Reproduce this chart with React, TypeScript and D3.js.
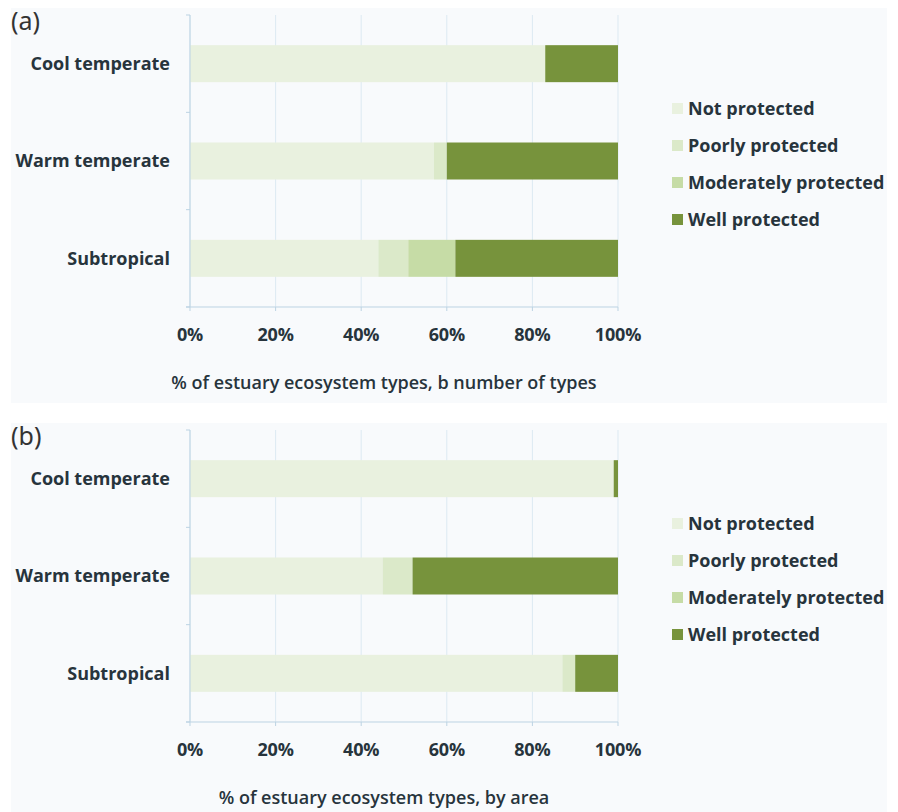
import React from "react";
import * as d3 from "d3";

const CATEGORIES = ["Cool temperate", "Warm temperate", "Subtropical"];
const SERIES = ["Not protected", "Poorly protected", "Moderately protected", "Well protected"];
const COLORS = ["#e9f1df", "#dbe9c9", "#c6dca6", "#77933c"];
const TICKS = [0, 20, 40, 60, 80, 100];

// panel (a): by number of types
const A_NOT = [83, 57, 44];
const A_POOR = [0, 3, 7];
const A_MOD = [0, 0, 11];
const A_WELL = [17, 40, 38];

// panel (b): by area
const B_NOT = [99, 45, 87];
const B_POOR = [0, 7, 3];
const B_MOD = [0, 0, 0];
const B_WELL = [1, 48, 10];

const FONT = "'Open Sans', Lato, sans-serif";
const TEXT = "#27343c";
const AXIS = "#bcd3e3";

type PanelProps = {
    y0: number;
    label: string;
    title: string;
    values: number[][];
};

const Panel = ({ y0, label, title, values }: PanelProps) => {
    const left = 190;
    const right = 618;
    const top = y0 + 7;
    const bottom = y0 + 299;

    const x = d3.scaleLinear().domain([0, 100]).range([left, right]);
    const y = d3.scaleBand().domain(CATEGORIES).range([top, bottom]).paddingInner(0.62).paddingOuter(0.31);

    const rows = CATEGORIES.map((c, i) => {
        const row: any = { cat: c };
        SERIES.forEach((s, j) => (row[s] = values[j][i]));
        return row;
    });
    const stack = d3.stack<any>().keys(SERIES)(rows);

    const band = (bottom - top) / CATEGORIES.length;

    return (
        <g>
            <rect x={11} y={y0} width={876} height={395} fill="#f8fafc" />
            <text x={11} y={y0 + 22} fontSize={25} fontFamily="'Noto Sans', sans-serif" fill="#333">{label}</text>
            {TICKS.map((t) => (
                <line key={t} x1={x(t)} x2={x(t)} y1={top} y2={bottom} stroke="#dce9f2" strokeWidth={1} />
            ))}
            {stack.map((layer, j) => layer.map((d, i) => (
                <rect
                    key={`${j}-${i}`}
                    x={x(d[0])}
                    y={y(CATEGORIES[i]) ?? 0}
                    width={x(d[1]) - x(d[0])}
                    height={y.bandwidth()}
                    fill={COLORS[j]}
                />
            )))}
            <line x1={left} x2={left} y1={top} y2={bottom} stroke={AXIS} />
            <line x1={left - 4} x2={right} y1={bottom} y2={bottom} stroke={AXIS} />
            {d3.range(CATEGORIES.length + 1).map((k) => (
                <line key={k} x1={left - 4} x2={left} y1={top + k * band} y2={top + k * band} stroke={AXIS} />
            ))}
            {TICKS.map((t) => (
                <line key={"tk" + t} x1={x(t)} x2={x(t)} y1={bottom} y2={bottom + 4} stroke={AXIS} />
            ))}
            {CATEGORIES.map((c) => (
                <text key={c} x={170} y={(y(c) ?? 0) + y.bandwidth() / 2} dy="0.35em" textAnchor="end"
                    fontSize={18} fontWeight={700} fontFamily={FONT} fill={TEXT}>{c}</text>
            ))}
            {TICKS.map((t) => (
                <text key={"l" + t} x={x(t)} y={bottom + 28} dy="0.35em" textAnchor="middle"
                    fontSize={18} fontWeight={700} fontFamily={FONT} fill={TEXT} letterSpacing={-0.2}>{t}%</text>
            ))}
            <text x={384} y={bottom + 76} dy="0.35em" textAnchor="middle"
                fontSize={18} fontFamily={FONT} fontWeight={600} fill={TEXT}>{title}</text>
            {SERIES.map((s, j) => (
                <g key={s} transform={`translate(672, ${y0 + 101 + j * 37})`}>
                    <rect x={0} y={-6} width={11} height={11} fill={COLORS[j]} />
                    <text x={16} y={0} dy="0.35em" fontSize={18} fontWeight={700} fontFamily={FONT} fill={TEXT}>{s}</text>
                </g>
            ))}
        </g>
    );
};

export default function App() {
    return (
        <svg width={898} height={812} style={{ display: "block", margin: "-8px 0 0 -8px" }}>
            <rect width={898} height={812} fill="#ffffff" />
            <Panel y0={8} label="(a)" title="% of estuary ecosystem types, b number of types"
                values={[A_NOT, A_POOR, A_MOD, A_WELL]} />
            <Panel y0={423} label="(b)" title="% of estuary ecosystem types, by area"
                values={[B_NOT, B_POOR, B_MOD, B_WELL]} />
        </svg>
    );
}
